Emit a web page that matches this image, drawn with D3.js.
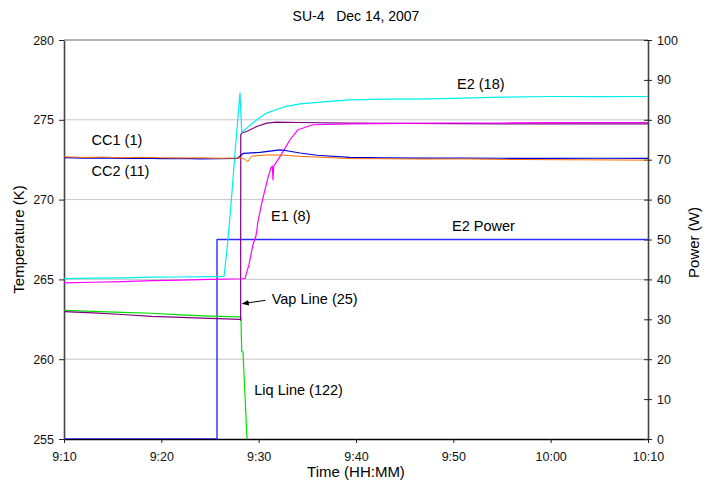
<!DOCTYPE html>
<html>
<head>
<meta charset="utf-8">
<script src="https://cdn.jsdelivr.net/npm/d3@7"></script>
<style>
  body { margin: 0; background: #fff; }
  svg { display: block; font-family: "Liberation Sans", Arial, sans-serif; }
</style>
</head>
<body>
<svg></svg>
<script>
// data: [minutes after 9:10, value]
const cc1 = [
  [0, 272.68], [2, 272.64], [4, 272.66], [6, 272.62], [8, 272.65], [10, 272.62],
  [12, 272.6], [14, 272.62], [16, 272.59], [17.5, 272.6], [18.3, 272.6],
  [18.6, 272.52], [18.87, 272.38], [19.28, 272.72], [20.83, 272.8],
  [22.5, 272.78], [24.25, 272.71], [27, 272.64], [29.38, 272.57], [33, 272.56],
  [37, 272.54], [41, 272.55], [45, 272.52], [50, 272.5], [55, 272.49], [60, 272.47],
];
const cc2 = [
  [0, 272.63], [2, 272.6], [4, 272.62], [6, 272.58], [8, 272.6], [10, 272.57],
  [12, 272.58], [14, 272.55], [16, 272.56], [17.8, 272.58], [18.43, 272.9],
  [20.14, 272.96], [22.19, 273.12], [22.88, 273.06], [24.25, 272.92],
  [26, 272.78], [29.38, 272.64], [33, 272.62], [37, 272.6], [41, 272.6],
  [45, 272.59], [50, 272.58], [55, 272.59], [60, 272.58],
];
const e2 = [
  [0, 265.05], [3, 265.08], [6, 265.1], [9, 265.14], [12, 265.15], [15, 265.17],
  [16.44, 265.19], [16.75, 266.88], [17.16, 269.69], [17.57, 272.94],
  [17.91, 275.44], [18.08, 276.69], [18.26, 274.21], [18.77, 274.48],
  [19.8, 275.0], [20.83, 275.42], [22.5, 275.79], [24.25, 276.0], [27, 276.14],
  [29.38, 276.25], [33, 276.29], [36, 276.3], [40, 276.34], [45, 276.42],
  [50, 276.46], [55, 276.45], [60, 276.46],
];
const e1 = [
  [0, 264.78], [3, 264.82], [6, 264.86], [9, 264.92], [12, 264.96], [15, 265.0],
  [18.39, 265.04], [18.6, 265.06], [19.01, 265.94], [19.42, 267.19],
  [19.73, 267.75], [19.93, 268.63], [20.24, 269.56], [20.65, 270.63],
  [20.96, 271.38], [21.27, 272.0], [21.4, 272.1], [21.47, 271.25], [21.55, 272.1],
  [22.19, 272.69], [23.22, 273.75], [24.04, 274.38], [25.58, 274.69],
  [29.38, 274.75], [35, 274.78], [40, 274.8], [45, 274.8], [50, 274.82],
  [55, 274.83], [60, 274.83],
];
const vap = [
  [0, 262.98], [3, 262.9], [6, 262.8], [9, 262.68], [12, 262.62], [15, 262.56],
  [18.1, 262.5], [18.15, 262.45], [18.16, 274.06], [18.26, 274.17],
  [18.77, 274.27], [19.8, 274.58], [20.83, 274.79], [21.85, 274.85],
  [24.25, 274.83], [29.38, 274.79], [35, 274.78], [40, 274.76], [45, 274.75],
  [50, 274.74], [55, 274.75], [60, 274.75],
];
const liq = [
  [0, 263.06], [3, 263.0], [6, 262.94], [9, 262.88], [12, 262.78], [15, 262.7],
  [18.08, 262.65], [18.18, 262.62], [18.26, 260.5], [18.39, 260.44],
  [18.8, 255.06], [19.0, 253.5],
];
const power = [[0, 0], [15.72, 0], [15.72, 50], [60, 50]];

const tempTicks = [255, 260, 265, 270, 275, 280];
const powerTicks = [0, 10, 20, 30, 40, 50, 60, 70, 80, 90, 100];

// chart size
const W = 710, H = 483;
const mLeft = 64, mRight = 648, mTop = 40, mBottom = 439;

const t0 = new Date(2007, 11, 14, 9, 10);
const toDate = (m) => new Date(t0.getTime() + m * 60000);

const x = d3.scaleTime().domain([toDate(0), toDate(60)]).range([mLeft, mRight]);
const yT = d3.scaleLinear().domain([255, 280]).range([mBottom, mTop]);
const yP = d3.scaleLinear().domain([0, 100]).range([mBottom, mTop]);

const svg = d3.select("svg").attr("width", W).attr("height", H);

svg.append("defs").append("clipPath").attr("id", "plot")
  .append("rect")
  .attr("x", mLeft).attr("y", mTop - 10)
  .attr("width", mRight - mLeft).attr("height", mBottom - mTop + 10);

// gridlines
svg.append("g")
  .selectAll("line")
  .data(tempTicks.slice(1))
  .join("line")
  .attr("x1", mLeft).attr("x2", mRight)
  .attr("y1", (d) => yT(d)).attr("y2", (d) => yT(d))
  .attr("stroke", (d) => (d === 280 ? "#666" : "#c6c6c6"))
  .attr("stroke-width", 1);

// x axis
const xAxis = svg.append("g")
  .attr("transform", `translate(0,${mBottom})`)
  .call(d3.axisBottom(x)
    .ticks(d3.timeMinute.every(10))
    .tickFormat(d3.timeFormat("%-H:%M"))
    .tickSize(4).tickSizeOuter(0).tickPadding(9));
xAxis.select(".domain").attr("stroke", "#000").attr("stroke-width", 1.3);

// left axis
const yAxisL = svg.append("g")
  .attr("transform", `translate(${mLeft},0)`)
  .call(d3.axisLeft(yT).tickValues(tempTicks).tickSize(5).tickSizeOuter(0).tickPadding(5));
yAxisL.select(".domain").attr("stroke", "#444").attr("stroke-width", 1.6);

// right axis
const yAxisR = svg.append("g")
  .attr("transform", `translate(${mRight},0)`)
  .call(d3.axisRight(yP).tickValues(powerTicks).tickSize(4).tickSizeOuter(0).tickPadding(5));
yAxisR.select(".domain").attr("stroke", "#444").attr("stroke-width", 1.6);
yAxisR.selectAll(".tick line").attr("x1", -4);

svg.selectAll(".tick text")
  .style("font-size", "12.5px")
  .style("font-family", "'Liberation Sans', Arial, sans-serif")
  .attr("fill", "#111");
svg.selectAll(".tick line").attr("stroke", "#222");

// series
const lineT = d3.line().x((d) => x(toDate(d[0]))).y((d) => yT(d[1]));
const lineP = d3.line().x((d) => x(toDate(d[0]))).y((d) => yP(d[1]));

const plot = svg.append("g").attr("clip-path", "url(#plot)");

const series = [
  { data: power, color: "#2b2bff", gen: lineP, w: 1.4 },
  { data: liq, color: "#00e000", gen: lineT, w: 1.2 },
  { data: vap, color: "#800080", gen: lineT, w: 1.2 },
  { data: e1, color: "#ff00ff", gen: lineT, w: 1.2 },
  { data: e2, color: "#00eeee", gen: lineT, w: 1.2 },
  { data: cc2, color: "#0000dd", gen: lineT, w: 1.2 },
  { data: cc1, color: "#ff6a00", gen: lineT, w: 1 },
];

series.forEach((s) => {
  plot.append("path")
    .datum(s.data)
    .attr("d", s.gen)
    .attr("fill", "none")
    .attr("stroke", s.color)
    .attr("stroke-width", s.w)
    .attr("stroke-linejoin", "round");
});

// annotations (minutes, kelvin)
const notes = [
  { text: "CC1 (1)", t: 2.83, v: 273.44 },
  { text: "CC2 (11)", t: 2.83, v: 271.5 },
  { text: "E2 (18)", t: 40.38, v: 276.94 },
  { text: "E1 (8)", t: 21.27, v: 268.69 },
  { text: "E2 Power", t: 39.86, v: 268.06 },
  { text: "Vap Line (25)", t: 21.34, v: 263.44 },
  { text: "Liq Line (122)", t: 19.55, v: 257.75 },
];

svg.append("g")
  .selectAll("text")
  .data(notes)
  .join("text")
  .attr("x", (d) => x(toDate(d.t)))
  .attr("y", (d) => yT(d.v))
  .style("font-size", "14.5px")
  .attr("fill", "#000")
  .text((d) => d.text);

// arrow to vap line
svg.append("defs").append("marker")
  .attr("id", "arrow")
  .attr("viewBox", "0 0 10 10")
  .attr("refX", 9).attr("refY", 5)
  .attr("markerWidth", 7).attr("markerHeight", 7)
  .attr("orient", "auto")
  .append("path")
  .attr("d", "M0,1 L10,5 L0,9 z")
  .attr("fill", "#000");

svg.append("line")
  .attr("x1", x(toDate(20.7))).attr("y1", yT(263.69))
  .attr("x2", x(toDate(18.34))).attr("y2", yT(263.48))
  .attr("stroke", "#000")
  .attr("stroke-width", 1)
  .attr("marker-end", "url(#arrow)");

// title and axis titles
svg.append("text")
  .attr("x", (mLeft + mRight) / 2).attr("y", 21)
  .attr("text-anchor", "middle")
  .style("font-size", "14px")
  .style("white-space", "pre")
  .text("SU-4   Dec 14, 2007");

svg.append("text")
  .attr("x", (mLeft + mRight) / 2).attr("y", 477)
  .attr("text-anchor", "middle")
  .style("font-size", "15px")
  .text("Time (HH:MM)");

svg.append("text")
  .attr("transform", `translate(24,${(mTop + mBottom) / 2}) rotate(-90)`)
  .attr("text-anchor", "middle")
  .style("font-size", "15px")
  .text("Temperature (K)");

svg.append("text")
  .attr("transform", `translate(699,${(mTop + mBottom) / 2 + 3}) rotate(-90)`)
  .attr("text-anchor", "middle")
  .style("font-size", "15px")
  .text("Power (W)");
</script>
</body>
</html>
